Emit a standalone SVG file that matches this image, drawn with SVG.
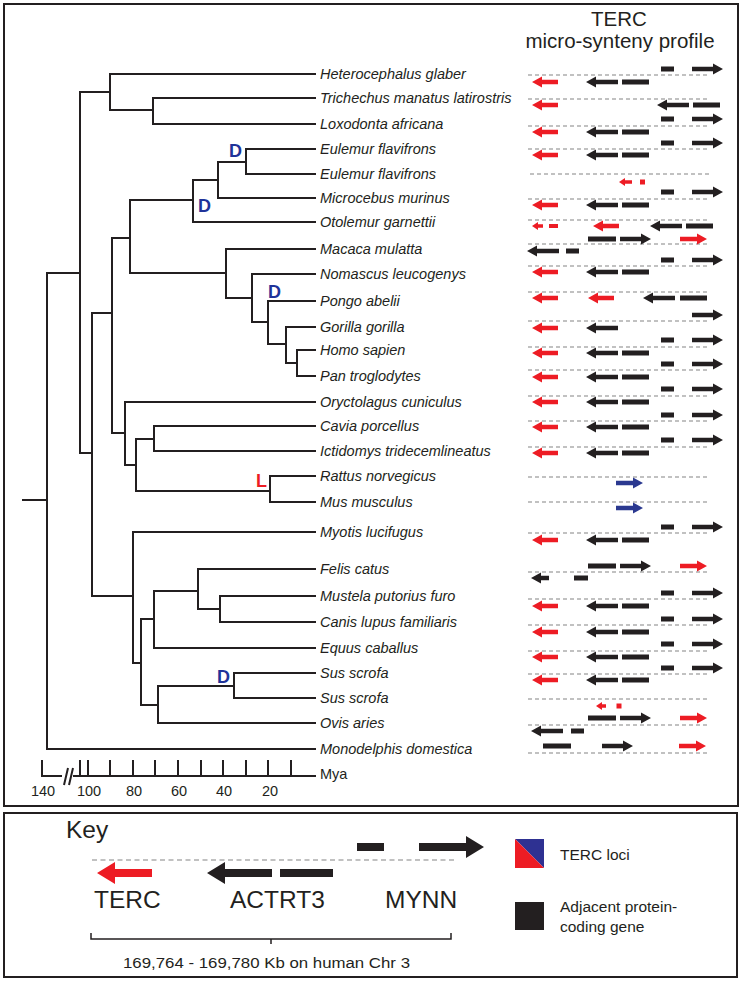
<svg xmlns="http://www.w3.org/2000/svg" xmlns:xlink="http://www.w3.org/1999/xlink" width="743" height="981" viewBox="0 0 743 981">
<style>
.frame{fill:none;stroke:#231f20;stroke-width:2}
.br{fill:none;stroke:#231f20;stroke-width:2;stroke-linecap:square}
.sp{font-family:"Liberation Sans",Arial,sans-serif;font-style:italic;font-size:14.5px;fill:#231f20}
.ax{font-family:"Liberation Sans",Arial,sans-serif;font-size:14.5px;fill:#231f20}
.ev{font-family:"Liberation Sans",Arial,sans-serif;font-weight:bold;font-size:18px}
.dash{stroke:#adadad;stroke-width:1.3;stroke-dasharray:4 3;fill:none}
.red{fill:#ed1c24}
.blk{fill:#231f20}
.blu{fill:#2b3990}
.ttl{font-family:"Liberation Sans",Arial,sans-serif;font-size:20.5px;fill:#231f20;text-anchor:middle}
.kl{font-family:"Liberation Sans",Arial,sans-serif;font-size:24.5px;fill:#231f20}
.ks{font-family:"Liberation Sans",Arial,sans-serif;font-size:15.5px;fill:#231f20}
</style>
<defs>
<path id="redL" class="red" d="M0 0 L10 -5.5 L10 -2.2 L26 -2.2 L26 2.2 L10 2.2 L10 5.5Z"/>
<path id="blkL" class="blk" d="M0 0 L10 -5.5 L10 -2.2 L32 -2.2 L32 2.2 L10 2.2 L10 5.5Z"/>
<path id="blkR" class="blk" d="M31 0 L21 -5.5 L21 -2.2 L0 -2.2 L0 2.2 L21 2.2 L21 5.5Z"/>
<path id="redR" class="red" d="M27 0 L17 -5.5 L17 -2.2 L0 -2.2 L0 2.2 L17 2.2 L17 5.5Z"/>
<path id="bluR" class="blu" d="M27 0 L17 -5.5 L17 -2.2 L0 -2.2 L0 2.2 L17 2.2 L17 5.5Z"/>
<rect id="bar27" class="blk" x="0" y="-2.5" width="27" height="5"/>
<rect id="bar13" class="blk" x="0" y="-2.5" width="13" height="5"/>
<rect id="bar28" class="blk" x="0" y="-2.5" width="28" height="5"/>
<g id="below"><use href="#redL" x="532"/><use href="#blkL" x="586"/><use href="#bar27" x="622"/></g>
<g id="above"><use href="#bar13" x="661"/><use href="#blkR" x="692"/></g>
<g id="above3"><use href="#bar28" x="588"/><use href="#blkR" x="620"/><use href="#redR" x="680"/></g>
</defs>

<rect class="frame" x="4" y="4" width="734" height="802"/>

<g id="tree">
<path class="br" d="M23 500H47 M47 273V749 M47 273H80 M80 92V453 M80 92H110 M110 74V110 M110 110H153 M153 98V124 M80 453H92 M92 313V596 M92 313H112 M112 238V433 M112 238H130 M130 200V273 M130 200H193 M193 180V222 M193 180H218 M218 162V198 M218 162H246 M246 149V174 M130 273H226 M226 249V298 M226 298H252 M252 274V322 M252 322H268 M268 301V344 M268 344H286 M286 327V363 M286 363H297 M297 350V376 M112 433H125 M125 402V465 M125 465H136 M136 439V491 M136 439H154 M154 426V451 M136 491H270 M270 476V502 M92 596H133 M133 532V663 M133 663H141 M141 619V705 M141 619H154 M154 591V648 M154 591H198 M198 569V609 M198 609H220 M220 596V622 M141 705H158 M158 686V723 M158 686H234 M234 673V698"/>
<path class="br" d="M110 74H315 M153 98H315 M153 124H315 M246 149H315 M246 174H315 M218 198H315 M193 222H315 M226 249H315 M252 274H315 M268 301H315 M286 327H315 M297 350H315 M297 376H315 M125 402H315 M154 426H315 M154 451H315 M270 476H315 M270 502H315 M133 532H315 M198 569H315 M220 596H315 M220 622H315 M154 648H315 M234 673H315 M234 698H315 M158 723H315 M47 749H315"/>
<text class="ev" x="229" y="157" fill="#1f3399">D</text>
<text class="ev" x="198" y="212" fill="#1f3399">D</text>
<text class="ev" x="268" y="298" fill="#1f3399">D</text>
<text class="ev" x="217" y="683" fill="#1f3399">D</text>
<text class="ev" x="256" y="487" fill="#ed1c24">L</text>
</g>

<g id="axis">
<path class="br" d="M42 776H315 M42 776V761 M80 776V761 M88 776V761 M110 776V761 M133 776V761 M155 776V761 M178 776V761 M201 776V761 M223 776V761 M246 776V761 M268 776V761 M291 776V761"/>
<rect x="62" y="770" width="11" height="12" fill="#fff"/>
<path d="M64 785L68 768 M69 785L73 768" stroke="#231f20" stroke-width="2" fill="none"/>
<g class="ax" text-anchor="middle">
<text x="43" y="796">140</text><text x="89" y="796">100</text><text x="134" y="796">80</text><text x="179" y="796">60</text><text x="224" y="796">40</text><text x="270" y="796">20</text>
</g>
<text class="ax" x="320" y="779">Mya</text>
</g>

<g id="labels" class="sp">
<text x="320" y="79">Heterocephalus glaber</text>
<text x="320" y="103">Trichechus manatus latirostris</text>
<text x="320" y="129">Loxodonta africana</text>
<text x="320" y="154">Eulemur flavifrons</text>
<text x="320" y="179">Eulemur flavifrons</text>
<text x="320" y="203">Microcebus murinus</text>
<text x="320" y="227">Otolemur garnettii</text>
<text x="320" y="254">Macaca mulatta</text>
<text x="320" y="279">Nomascus leucogenys</text>
<text x="320" y="306">Pongo abelii</text>
<text x="320" y="332">Gorilla gorilla</text>
<text x="320" y="355">Homo sapien</text>
<text x="320" y="381">Pan troglodytes</text>
<text x="320" y="407">Oryctolagus cuniculus</text>
<text x="320" y="431">Cavia porcellus</text>
<text x="320" y="456">Ictidomys tridecemlineatus</text>
<text x="320" y="481">Rattus norvegicus</text>
<text x="320" y="507">Mus musculus</text>
<text x="320" y="537">Myotis lucifugus</text>
<text x="320" y="574">Felis catus</text>
<text x="320" y="601">Mustela putorius furo</text>
<text x="320" y="627">Canis lupus familiaris</text>
<text x="320" y="653">Equus caballus</text>
<text x="320" y="678">Sus scrofa</text>
<text x="320" y="703">Sus scrofa</text>
<text x="320" y="728">Ovis aries</text>
<text x="320" y="754">Monodelphis domestica</text>
</g>

<g id="profile">
<text class="ttl" x="619" y="26">TERC</text>
<text class="ttl" x="620" y="48">micro-synteny profile</text>
<path class="dash" d="M528 75H708 M528 99H708 M528 126H708 M528 149H708 M530 174H710 M528 199H708 M528 220H708 M528 244H708 M528 266H708 M528 292H708 M528 321H708 M528 347H708 M528 370H708 M528 396H708 M528 421H708 M528 447H708 M528 477H708 M528 502H708 M528 533H708 M528 572H708 M528 599H708 M528 625H708 M528 651H708 M528 674H708 M528 699H708 M528 725H708 M528 753H708"/>
<g id="r-hetero"><use href="#above" y="69"/><use href="#below" y="82"/></g>
<g id="r-trich"><use href="#redL" x="532" y="105"/><use href="#blkL" x="657" y="105"/><use href="#bar27" x="693" y="105"/></g>
<g id="r-lox"><use href="#above" y="119"/><use href="#below" y="132"/></g>
<g id="r-eul1"><use href="#above" y="143"/><use href="#below" y="155"/></g>
<g id="r-eul2"><path class="red" d="M619 182 L625 178 L625 180.2 L632 180.2 L632 183.8 L625 183.8 L625 186Z"/><rect class="red" x="640" y="179.5" width="5" height="5"/></g>
<g id="r-micro"><use href="#above" y="192"/><use href="#below" y="205"/></g>
<g id="r-otol"><path class="red" d="M532 226 L538 222 L538 224.2 L543 224.2 L543 227.8 L538 227.8 L538 230Z"/><rect class="red" x="549" y="224" width="9" height="4"/><use href="#redL" x="593" y="226"/><use href="#blkL" x="650" y="226"/><use href="#bar27" x="686" y="226"/></g>
<g id="r-mac"><use href="#above3" y="239"/><use href="#blkL" x="527" y="251"/><use href="#bar13" x="566" y="251"/></g>
<g id="r-nom"><use href="#above" y="260"/><use href="#below" y="272"/></g>
<g id="r-pongo"><use href="#redL" x="532" y="298"/><use href="#redL" x="588" y="298"/><use href="#blkL" x="643" y="298"/><use href="#bar27" x="680" y="298"/></g>
<g id="r-gor"><use href="#blkR" x="692" y="315"/><use href="#redL" x="532" y="328"/><use href="#blkL" x="586" y="328"/></g>
<g id="r-homo"><use href="#above" y="340"/><use href="#below" y="353"/></g>
<g id="r-pan"><use href="#above" y="364"/><use href="#below" y="377"/></g>
<g id="r-oryct"><use href="#above" y="389"/><use href="#below" y="402"/></g>
<g id="r-cavia"><use href="#above" y="415"/><use href="#below" y="427"/></g>
<g id="r-ictid"><use href="#above" y="440"/><use href="#below" y="453"/></g>
<g id="r-rattus"><use href="#bluR" x="616" y="483"/></g>
<g id="r-mus"><use href="#bluR" x="616" y="508"/></g>
<g id="r-myotis"><use href="#above" y="527"/><use href="#below" y="540"/></g>
<g id="r-felis"><use href="#above3" y="566"/><path class="blk" d="M531 578 L541 572.5 L541 575.8 L549 575.8 L549 580.2 L541 580.2 L541 583.5Z"/><rect class="blk" x="574" y="575.5" width="14" height="5"/></g>
<g id="r-mustela"><use href="#above" y="593"/><use href="#below" y="606"/></g>
<g id="r-canis"><use href="#above" y="619"/><use href="#below" y="632"/></g>
<g id="r-equus"><use href="#above" y="644"/><use href="#below" y="657"/></g>
<g id="r-sus1"><use href="#above" y="668"/><use href="#below" y="680"/></g>
<g id="r-sus2"><path class="red" d="M596 706 L602 702 L602 704.2 L606 704.2 L606 707.8 L602 707.8 L602 710Z"/><rect class="red" x="616.5" y="703.5" width="5" height="5"/></g>
<g id="r-ovis"><use href="#above3" y="718"/><use href="#blkL" x="531" y="731"/><use href="#bar13" x="571" y="731"/></g>
<g id="r-monod"><use href="#bar28" x="543" y="746"/><use href="#blkR" x="602" y="746"/><use href="#redR" x="679" y="746"/></g>
</g>

<g id="key">
<rect class="frame" x="4" y="813" width="733" height="164"/>
<text class="kl" x="66" y="838">Key</text>
<path d="M92 860H454" stroke="#adadad" stroke-width="1.5" stroke-dasharray="5 3.5" fill="none"/>
<path class="red" d="M97 873 L115 862 L115 869 L152 869 L152 877 L115 877 L115 884Z"/>
<path class="blk" d="M207 873 L225 862 L225 869 L272 869 L272 877 L225 877 L225 884Z"/>
<rect class="blk" x="280" y="869" width="53" height="8"/>
<rect class="blk" x="357" y="843" width="27" height="8"/>
<path class="blk" d="M484 847 L466 836 L466 843 L419 843 L419 851 L466 851 L466 858Z"/>
<text class="kl" x="94" y="908">TERC</text>
<text class="kl" x="230" y="908">ACTRT3</text>
<text class="kl" x="385" y="908">MYNN</text>
<path d="M91 933V939H451V933 M271 939V944" stroke="#231f20" stroke-width="1.5" fill="none"/>
<text class="ks" x="123" y="968" font-size="17px" textLength="287" lengthAdjust="spacingAndGlyphs">169,764 - 169,780 Kb on human Chr 3</text>
<path d="M515 839H544V868Z" fill="#2e3192"/>
<path d="M515 839V868H544Z" fill="#ed1c24"/>
<text class="ks" x="560" y="860">TERC loci</text>
<rect class="blk" x="515" y="902" width="29" height="28"/>
<text class="ks" x="560" y="912">Adjacent protein-</text>
<text class="ks" x="560" y="932">coding gene</text>
</g>
</svg>
